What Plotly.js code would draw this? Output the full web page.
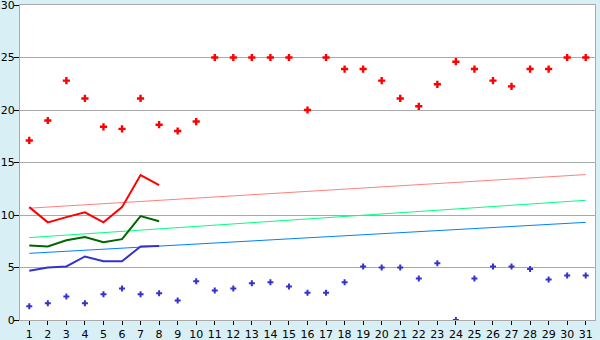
<!DOCTYPE html>
<html>
<head>
<meta charset="utf-8">
<script src="https://cdn.plot.ly/plotly-3.0.1.min.js"></script>
<style>html,body{margin:0;padding:0;background:#D8EFF5;}#chart{width:600px;height:340px;}</style>
</head>
<body>
<div id="chart"></div>
<script>
const days = [1,2,3,4,5,6,7,8,9,10,11,12,13,14,15,16,17,18,19,20,21,22,23,24,25,26,27,28,29,30,31];
const highPoints = [17.1,19.0,22.8,21.1,18.4,18.2,21.1,18.6,18.0,18.9,25,25,25,25,25,20,25,23.9,23.9,22.8,21.1,20.35,22.45,24.6,23.9,22.8,22.25,23.9,23.9,25,25];
const lowPoints = [1.3,1.6,2.25,1.6,2.45,3.0,2.45,2.55,1.85,3.7,2.8,3.0,3.5,3.6,3.2,2.6,2.6,3.6,5.1,5.0,5.0,3.95,5.4,0,3.95,5.1,5.1,4.85,3.85,4.25,4.25];
const lineDays = [1,2,3,4,5,6,7,8];
const redLine = [10.75,9.3,9.8,10.25,9.3,10.75,13.8,12.85];
const greenLine = [7.1,7.0,7.6,7.9,7.4,7.7,9.9,9.4];
const blueLine = [4.7,5.0,5.1,6.05,5.6,5.6,7.0,7.05];
const trendDays = [1,31];
const redTrend = [10.65,13.85];
const greenTrend = [7.85,11.4];
const blueTrend = [6.35,9.3];
const yTicks = [0,5,10,15,20,25,30];

const traces = [
  {x: trendDays, y: redTrend, mode: 'lines', line: {color: '#FF8080', width: 1}},
  {x: trendDays, y: greenTrend, mode: 'lines', line: {color: '#00FF80', width: 1}},
  {x: trendDays, y: blueTrend, mode: 'lines', line: {color: '#0080FF', width: 1}},
  {x: lineDays, y: redLine, mode: 'lines', line: {color: '#FF0000', width: 2}},
  {x: lineDays, y: greenLine, mode: 'lines', line: {color: '#006600', width: 2}},
  {x: lineDays, y: blueLine, mode: 'lines', line: {color: '#3333CC', width: 2}},
  {x: days, y: highPoints, mode: 'markers', marker: {symbol: 'cross', size: 6, color: '#FF0000', line: {width: 0}}},
  {x: days, y: lowPoints, mode: 'markers', marker: {symbol: 'cross', size: 5, color: '#3333CC', line: {width: 0}}}
];

const layout = {
  width: 600, height: 340,
  margin: {l: 20, r: 5, t: 5, b: 20, pad: 0},
  paper_bgcolor: '#D8EFF5',
  plot_bgcolor: '#FFFFFF',
  showlegend: false,
  font: {family: 'DejaVu Sans, Verdana, sans-serif', size: 11, color: '#000'},
  xaxis: {
    range: [0.5, 31.5], tickmode: 'array', tickvals: days, ticktext: days.map(String),
    showgrid: false, zeroline: false, showline: true, linecolor: '#AAAAAA', mirror: true,
    ticks: 'outside', ticklen: 4, tickcolor: '#000', tickfont: {size: 11}
  },
  yaxis: {
    range: [0, 30], tickmode: 'array', tickvals: yTicks, ticktext: yTicks.map(String),
    showgrid: true, gridcolor: '#AAAAAA',
    zeroline: false, showline: true, linecolor: '#AAAAAA', mirror: true,
    ticks: 'outside', ticklen: 5, tickcolor: '#000', tickfont: {size: 11},
    ticklabelstandoff: -3, ticklabeloverflow: 'allow'
  }
};
Plotly.newPlot('chart', traces, layout, {staticPlot: true, displayModeBar: false});
</script>
</body>
</html>
